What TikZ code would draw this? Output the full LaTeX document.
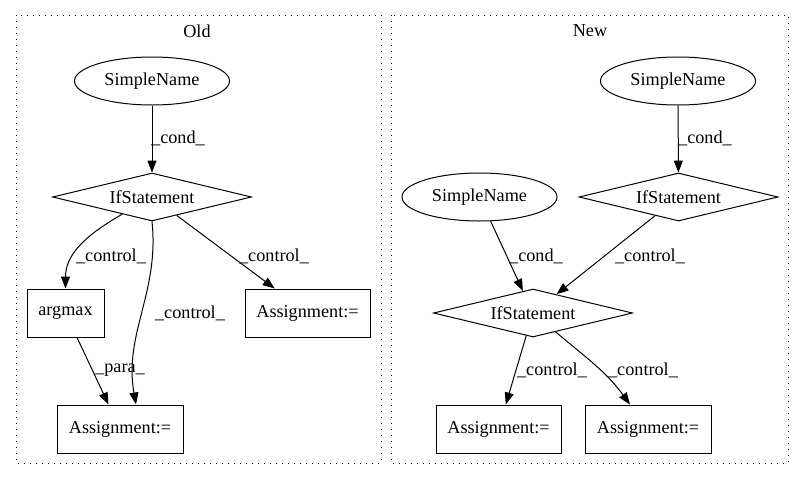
\documentclass[tikz,border=0pt]{standalone}
\usepackage{fontspec}
\setmainfont{Liberation Serif}
\usetikzlibrary{shapes.geometric,arrows.meta}
\begin{document}
\begin{tikzpicture}[x=1pt,y=-1pt,
  every node/.style={font=\fontsize{18.2}{21}\selectfont},
  cluster/.style={draw, line width=0.9pt, dash pattern=on 1.4pt off 4.6pt},
  ell/.style={draw, line width=1pt, ellipse, inner sep=0pt, minimum width=155pt, minimum height=48pt},
  dia/.style={draw, line width=1pt, diamond, aspect=4, inner sep=0pt, minimum width=199pt, minimum height=48pt},
  box/.style={draw, line width=1pt, rectangle, inner sep=0pt, minimum height=48pt},
  edge/.style={draw, line width=1pt, -{Triangle[length=12pt,width=9pt]}},
  lbl/.style={inner sep=0pt}
]
\useasboundingbox (0,0) rectangle (804,480);
% clusters
\draw[cluster] (16,15) rectangle (381,463);
\draw[cluster] (391,15) rectangle (788,463);
\node[lbl] (toldt) at (197,31) {Old};
\node[lbl] (tnewt) at (590,31) {New};
% Old nodes
\node[ell] (osn) at (152,81) {SimpleName};
\node[dia] (oif) at (152,197) {IfStatement};
\node[box, minimum width=77pt] (oarg) at (65.5,313) {argmax};
\node[box, minimum width=125pt] (oa1) at (307.5,313) {Assignment:=};
\node[box, minimum width=126pt] (oa2) at (120,429) {Assignment:=};
% Old edges
\draw[edge] (osn) -- (oif);
\draw[edge] (oif) to[out=210, in=90] (oarg);
\draw[edge] (oif.south) to[out=-84, in=100] ([xshift=16pt]oa2.north);
\draw[edge] (oif) -- (oa1);
\draw[edge] (oarg) -- (oa2);
% Old labels
\node[lbl] (l1) at (178,138) {\_cond\_};
\node[lbl] (l2) at (111,256) {\_control\_};
\node[lbl] (l3) at (190,313) {\_control\_};
\node[lbl] (l4) at (274,256) {\_control\_};
\node[lbl] (l5) at (120,370) {\_para\_};
% New nodes
\node[ell] (nsn1) at (678,81) {SimpleName};
\node[dia] (nif1) at (678.5,197) {IfStatement};
\node[ell] (nsn2) at (479.5,197) {SimpleName};
\node[dia] (nif2) at (533,313) {IfStatement};
\node[box, minimum width=125pt] (na1) at (498.5,429) {Assignment:=};
\node[box, minimum width=126pt] (na2) at (648,429) {Assignment:=};
% New edges
\draw[edge] (nsn1) -- (nif1);
\draw[edge] (nsn2) -- (nif2);
\draw[edge] (nif1) -- (nif2);
\draw[edge] (nif2) -- (na1);
\draw[edge] (nif2) to[out=-40, in=126] ([xshift=-18pt]na2.north);
% New labels
\node[lbl] (m1) at (705,138) {\_cond\_};
\node[lbl] (m2) at (536,256) {\_cond\_};
\node[lbl] (m3) at (650,256) {\_control\_};
\node[lbl] (m4) at (552,370) {\_control\_};
\node[lbl] (m5) at (643,370) {\_control\_};
\end{tikzpicture}
\end{document}
